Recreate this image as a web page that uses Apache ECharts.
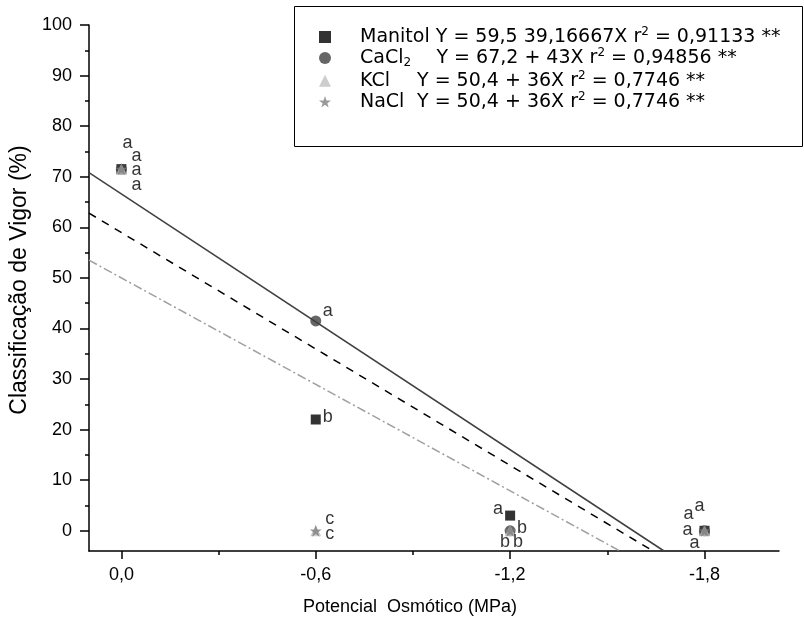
<!DOCTYPE html>
<html>
<head>
<meta charset="utf-8">
<script src="https://cdn.jsdelivr.net/npm/echarts@6/dist/echarts.min.js"></script>
<style>html,body{margin:0;padding:0;background:#fff}#c{width:804px;height:621px}</style>
</head>
<body>
<div id="c"></div>
<script>
// ---- data ----
const potentials = [0, -0.6, -1.2, -1.8];
const manitol = [71.5, 22, 3, 0];
const cacl2 = [71.5, 41.5, 0, 0];
const kcl = [71.5, 0, 0, 0];
const nacl = [71.5, 0, 0, 0];
const manitolLetters = ['a', 'b', 'a', 'a'];
const cacl2Letters = ['a', 'a', 'b', 'a'];
const kclLetters = ['a', 'c', 'b', 'a'];
const naclLetters = ['a', 'c', 'b', 'a'];
// fitted lines (endpoints)
const manitolFit = [[0.1, 62.8], [-1.641, -4]];
const cacl2Fit = [[0.1, 70.8], [-1.675, -4]];
const saltFit = [[0.1, 53.5], [-1.539, -4]];
// axis ticks
const xMajor = [0, -0.6, -1.2, -1.8];
const xMinor = [-0.3, -0.9, -1.5];
const yMajor = [0, 10, 20, 30, 40, 50, 60, 70, 80, 90, 100];
const yMinor = [5, 15, 25, 35, 45, 55, 65, 75, 85, 95];

const FONT = 'Liberation Sans, Arial, sans-serif';
const LFONT = 'DejaVu Sans, Liberation Sans, sans-serif';
const chart = echarts.init(document.getElementById('c'), null, {renderer: 'canvas'});

const STAR = 'path://M50,0 L61.8,35.1 L98.1,35.1 L68.8,56.8 L79.4,91.2 L50,70 L20.6,91.2 L31.2,56.8 L1.9,35.1 L38.2,35.1 Z';

// label offsets (style)
const offs = {
  Manitol: [[6, -26], [12, -2], [-12, -7], [-16, -17]],
  CaCl2: [[15, -13], [12, -10], [12, -3], [-5, -25]],
  KCl: [[15, 1], [14, -12], [-5, 11], [-17, -1]],
  NaCl: [[15, 16], [14, 3], [8, 11], [-10, 12]]
};

function pts(name, vals, letters) {
  return vals.map((v, i) => ({
    value: [potentials[i], v],
    label: {show: true, formatter: letters[i], position: 'inside', offset: offs[name][i],
      color: '#000', fontSize: 18, fontFamily: FONT}
  }));
}

const axisCommon = {
  type: 'value', min: -2.03, max: 0.1, inverse: true,
  splitLine: {show: false}
};

const option = {
  animation: false,
  backgroundColor: '#fff',
  grid: {left: 89, right: 25, top: 25, bottom: 70, containLabel: false, outerBoundsMode: 'none'},
  xAxis: [
    Object.assign({}, axisCommon, {
      position: 'bottom',
      axisLine: {show: true, onZero: false, lineStyle: {color: '#000', width: 1.5}},
      axisTick: {show: true, customValues: xMajor, length: 8, lineStyle: {color: '#000', width: 1.5}},
      axisLabel: {customValues: xMajor, margin: 15, color: '#000', fontSize: 18, fontFamily: FONT,
        formatter: v => (Math.abs(v) < 1e-9 ? 0 : v).toFixed(1).replace('.', ',')},
      name: 'Potencial  Osmótico (MPa)', nameLocation: 'middle', nameGap: 47,
      nameTextStyle: {color: '#000', fontSize: 18, fontFamily: FONT, padding: [0, 48, 0, 0]}
    }),
    Object.assign({}, axisCommon, {
      position: 'bottom',
      axisLine: {show: false, onZero: false},
      axisTick: {show: true, customValues: xMinor, length: 4, lineStyle: {color: '#000', width: 1.5}},
      axisLabel: {show: false}
    })
  ],
  yAxis: [
    {
      type: 'value', min: -4, max: 100, position: 'left',
      splitLine: {show: false},
      axisLine: {show: true, onZero: false, lineStyle: {color: '#000', width: 1.5}},
      axisTick: {show: true, customValues: yMajor, length: 9, lineStyle: {color: '#000', width: 1.5}},
      axisLabel: {customValues: yMajor, margin: 17, color: '#000', fontSize: 18, fontFamily: FONT},
      name: 'Classificação de Vigor (%)', nameLocation: 'middle', nameGap: 55,
      nameTextStyle: {color: '#000', fontSize: 23, fontFamily: FONT, padding: [0, 0, 0, 16]}
    },
    {
      type: 'value', min: -4, max: 100, position: 'left',
      splitLine: {show: false},
      axisLine: {show: false, onZero: false},
      axisTick: {show: true, customValues: yMinor, length: 4, lineStyle: {color: '#000', width: 1.5}},
      axisLabel: {show: false}
    }
  ],
  legend: {
    orient: 'vertical', left: 319, top: 26, padding: 0, itemGap: 0.6, z: 20,
    itemWidth: 12, itemHeight: 12,
    data: [
      {name: 'Manitol', icon: 'rect'},
      {name: 'CaCl2', icon: 'circle'},
      {name: 'KCl', icon: 'triangle'},
      {name: 'NaCl', icon: STAR}
    ],
    formatter: function (n) {
      if (n === 'Manitol') return '{sp|}{t|Manitol Y = 59,5 39,16667X r}{sup|2}{t| = 0,91133 **}';
      if (n === 'CaCl2') return '{sp|}{t|CaCl}{sub|2}{t|Y = 67,2 + 43X r}{sup|2}{t| = 0,94856 **}';
      if (n === 'KCl') return '{sp|}{k|KCl}{t|Y = 50,4 + 36X r}{sup|2}{t| = 0,7746 **}';
      return '{sp|}{k|NaCl}{t|Y = 50,4 + 36X r}{sup|2}{t| = 0,7746 **}';
    },
    textStyle: {
      color: '#000', fontFamily: LFONT, fontSize: 19,
      rich: {
        sp: {width: 24},
        t: {fontSize: 19, lineHeight: 22, fontFamily: LFONT, color: '#000'},
        k: {fontSize: 19, lineHeight: 22, width: 57, fontFamily: LFONT, color: '#000'},
        sup: {fontSize: 12, lineHeight: 12, verticalAlign: 'top', fontFamily: LFONT, color: '#000'},
        sub: {fontSize: 12, lineHeight: 10, verticalAlign: 'bottom', width: 33, fontFamily: LFONT, color: '#000'}
      }
    }
  },
  graphic: [
    {type: 'rect', left: 294, top: 6, z: 0, zlevel: 0,
      shape: {width: 508, height: 140},
      style: {fill: '#fff', stroke: '#000', lineWidth: 1}}
  ],
  series: [
    {type: 'line', data: cacl2Fit, showSymbol: false, symbol: 'none', silent: true,
      lineStyle: {color: '#404040', width: 1.5, type: 'solid'}, z: 2},
    {type: 'line', data: manitolFit, showSymbol: false, symbol: 'none', silent: true,
      lineStyle: {color: '#000', width: 1.5, type: [8, 7]}, z: 2},
    {type: 'line', data: saltFit, showSymbol: false, symbol: 'none', silent: true,
      lineStyle: {color: '#a0a0a0', width: 1.5, type: [9, 3, 2, 3]}, z: 2},
    {name: 'Manitol', type: 'scatter', symbol: 'rect', symbolSize: 10,
      itemStyle: {color: '#000'}, data: pts('Manitol', manitol, manitolLetters), z: 3},
    {name: 'CaCl2', type: 'scatter', symbol: 'circle', symbolSize: 11,
      itemStyle: {color: '#404040'}, data: pts('CaCl2', cacl2, cacl2Letters), z: 3},
    {name: 'KCl', type: 'scatter', symbol: 'triangle', symbolSize: 11,
      itemStyle: {color: '#c0c0c0'}, data: pts('KCl', kcl, kclLetters), z: 3},
    {name: 'NaCl', type: 'scatter', symbol: STAR, symbolSize: 12,
      itemStyle: {color: '#808080'}, data: pts('NaCl', nacl, naclLetters), z: 3}
  ]
};
chart.setOption(option);
</script>
</body>
</html>
